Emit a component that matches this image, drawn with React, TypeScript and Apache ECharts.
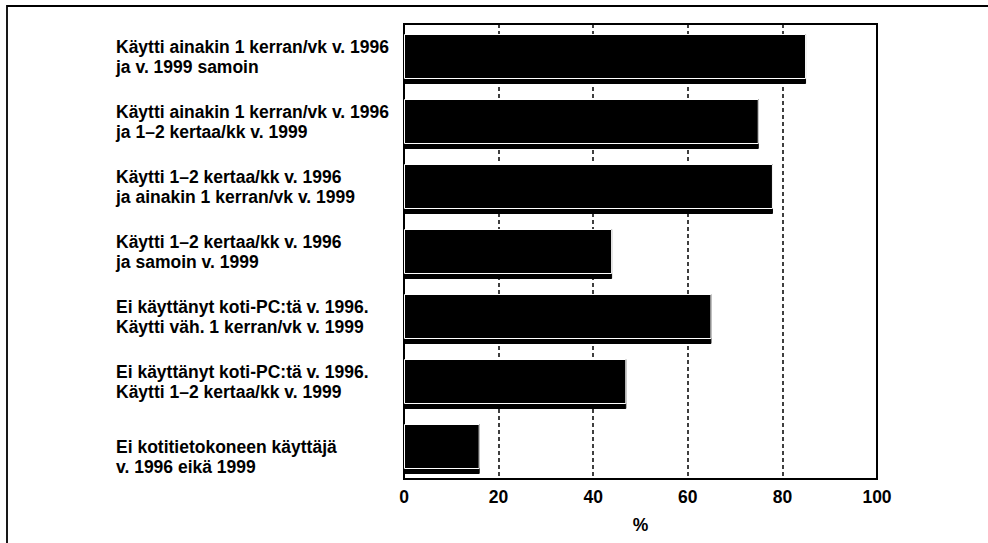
import React, { useEffect, useRef } from "react";
import * as echarts from "echarts";

const categories: string[] = [
  "Käytti ainakin 1 kerran/vk v. 1996\nja v. 1999 samoin",
  "Käytti ainakin 1 kerran/vk v. 1996\nja 1–2 kertaa/kk v. 1999",
  "Käytti 1–2 kertaa/kk v. 1996\nja ainakin 1 kerran/vk v. 1999",
  "Käytti 1–2 kertaa/kk v. 1996\nja samoin v. 1999",
  "Ei käyttänyt koti-PC:tä v. 1996.\nKäytti väh. 1 kerran/vk v. 1999",
  "Ei käyttänyt koti-PC:tä v. 1996.\nKäytti 1–2 kertaa/kk v. 1999",
  "Ei kotitietokoneen käyttäjä\nv. 1996 eikä 1999",
];
const values: number[] = [85, 75, 78, 44, 65, 47, 16];
const xTicks: number[] = [0, 20, 40, 60, 80, 100];
const xName = "%";

const FONT = "'Liberation Sans', Arial, Helvetica, sans-serif";
const FS = 17.5;

export default function App() {
  const ref = useRef<HTMLDivElement>(null);
  useEffect(() => {
    if (!ref.current) return;
    const chart = echarts.init(ref.current, undefined, { renderer: "svg" });
    chart.setOption({
      animation: false,
      backgroundColor: "#fff",
      textStyle: { fontFamily: FONT },
      graphic: [
        {
          type: "rect",
          shape: { x: 7, y: 6, width: 1000, height: 560 },
          style: { fill: "none", stroke: "#000", lineWidth: 1.8 },
          z: 0,
        },
      ],
      grid: {
        left: 404,
        top: 24,
        right: 111,
        bottom: 64,
        outerBoundsMode: "none",
        containLabel: false,
        show: true,
        borderColor: "#000",
        borderWidth: 2,
        backgroundColor: "transparent",
      },
      xAxis: {
        type: "value",
        min: xTicks[0],
        max: xTicks[xTicks.length - 1],
        interval: 20,
        name: xName,
        nameLocation: "middle",
        nameGap: 37,
        nameTextStyle: { color: "#000", fontSize: FS, fontWeight: "bold", fontFamily: FONT },
        axisLine: { show: false },
        axisTick: { show: false },
        axisLabel: { color: "#000", fontSize: FS, fontWeight: "bold", margin: 9, fontFamily: FONT },
        splitLine: { show: true, lineStyle: { color: "#000", type: [4, 3], width: 1.5 } },
      },
      yAxis: {
        type: "category",
        inverse: true,
        data: categories,
        axisLine: { show: false },
        axisTick: { show: false },
        splitLine: { show: false },
        axisLabel: {
          align: "left",
          margin: 288,
          color: "#000",
          fontSize: FS,
          fontWeight: "bold",
          lineHeight: 20,
          fontFamily: FONT,
          formatter: (v: string, i: number) => (i === categories.length - 1 ? "\n" + v : v),
        },
      },
      series: [
        {
          type: "bar",
          data: values,
          barWidth: 50,
          itemStyle: { color: "#000", borderColor: "#000", borderWidth: 1 },
          z: 3,
        },
        {
          type: "bar",
          data: values,
          barWidth: 45,
          barGap: "-100%",
          itemStyle: { color: "#000", borderColor: "#fff", borderWidth: 1 },
          z: 4,
        },
      ],
    });
    return () => chart.dispose();
  }, []);
  return (
    <div
      ref={ref}
      style={{ position: "fixed", left: 0, top: 0, width: 988, height: 543 }}
    />
  );
}
